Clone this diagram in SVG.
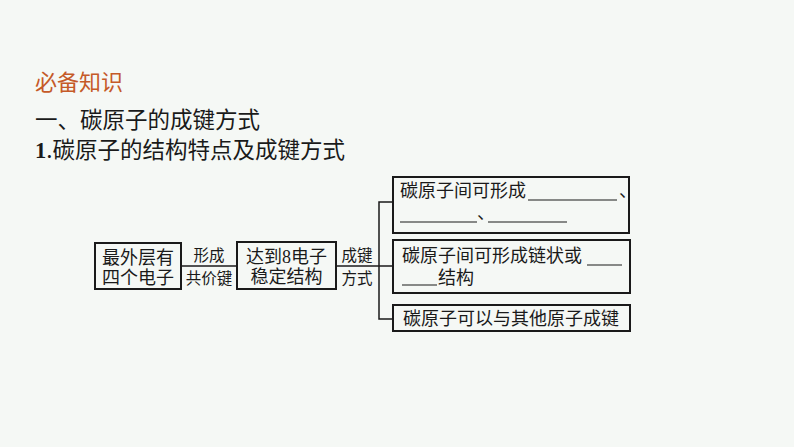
<svg xmlns="http://www.w3.org/2000/svg" width="794" height="447" viewBox="0 0 794 447">
<style>
.bg{fill:#f5f8f5}
.cjk{font-family:"Noto Sans CJK SC","Liberation Sans",sans-serif;fill:#1a1a1a}
.h{font-size:22.5px}
.t{font-size:18px}
.s{font-size:15.5px}
.box{fill:none;stroke:#1a1a1a;stroke-width:2}
.ln{fill:none;stroke:#1a1a1a;stroke-width:1.5}
.ul{fill:none;stroke:#1a1a1a;stroke-width:1.2}
</style>
<rect class="bg" x="0" y="0" width="794" height="447"/>
<g id="title">
<text class="cjk h" x="35" y="90" style="fill:#c55a28;font-size:22px">必备知识</text>
<text class="cjk h" x="35" y="128">一、碳原子的成键方式</text>
<text class="cjk h" x="35" y="158"><tspan font-family="Liberation Serif" font-weight="bold">1</tspan>.碳原子的结构特点及成键方式</text>
</g>
<g id="connectors">
<line class="ln" x1="181" y1="266" x2="237" y2="266"/>
<line class="ln" x1="336" y1="266" x2="393" y2="266"/>
<polyline class="ln" points="393,202 379,202 379,319 393,319"/>
<text class="cjk s" x="209" y="261" text-anchor="middle">形成</text>
<text class="cjk s" x="209" y="284" text-anchor="middle">共价键</text>
<text class="cjk s" x="357" y="261" text-anchor="middle">成键</text>
<text class="cjk s" x="357" y="284" text-anchor="middle">方式</text>
</g>
<g id="node-outer">
<rect class="box" x="95" y="243" width="86" height="46"/>
<text class="cjk t" x="138" y="264" text-anchor="middle">最外层有</text>
<text class="cjk t" x="138" y="284" text-anchor="middle">四个电子</text>
</g>
<g id="node-stable">
<rect class="box" x="237" y="242" width="99" height="47"/>
<text class="cjk t" x="286.5" y="263" text-anchor="middle">达到<tspan font-family="Liberation Serif">8</tspan>电子</text>
<text class="cjk t" x="286.5" y="283" text-anchor="middle">稳定结构</text>
</g>
<g id="node-bonds">
<rect class="box" x="393" y="177" width="236" height="56"/>
<text class="cjk t" x="400" y="197">碳原子间可形成</text>
<line class="ul" x1="528" y1="200" x2="617" y2="200"/>
<text class="cjk t" x="619" y="197">、</text>
<line class="ul" x1="400" y1="222" x2="477" y2="222"/>
<text class="cjk t" x="477" y="219">、</text>
<line class="ul" x1="488" y1="222" x2="567" y2="222"/>
</g>
<g id="node-chain">
<rect class="box" x="393" y="240" width="237" height="53"/>
<text class="cjk t" x="402" y="262">碳原子间可形成链状或</text>
<line class="ul" x1="587" y1="265" x2="622" y2="265"/>
<line class="ul" x1="402" y1="285" x2="437" y2="285"/>
<text class="cjk t" x="438" y="284">结构</text>
</g>
<g id="node-other">
<rect class="box" x="393" y="305" width="237" height="26"/>
<text class="cjk t" x="403" y="325">碳原子可以与其他原子成键</text>
</g>
</svg>
